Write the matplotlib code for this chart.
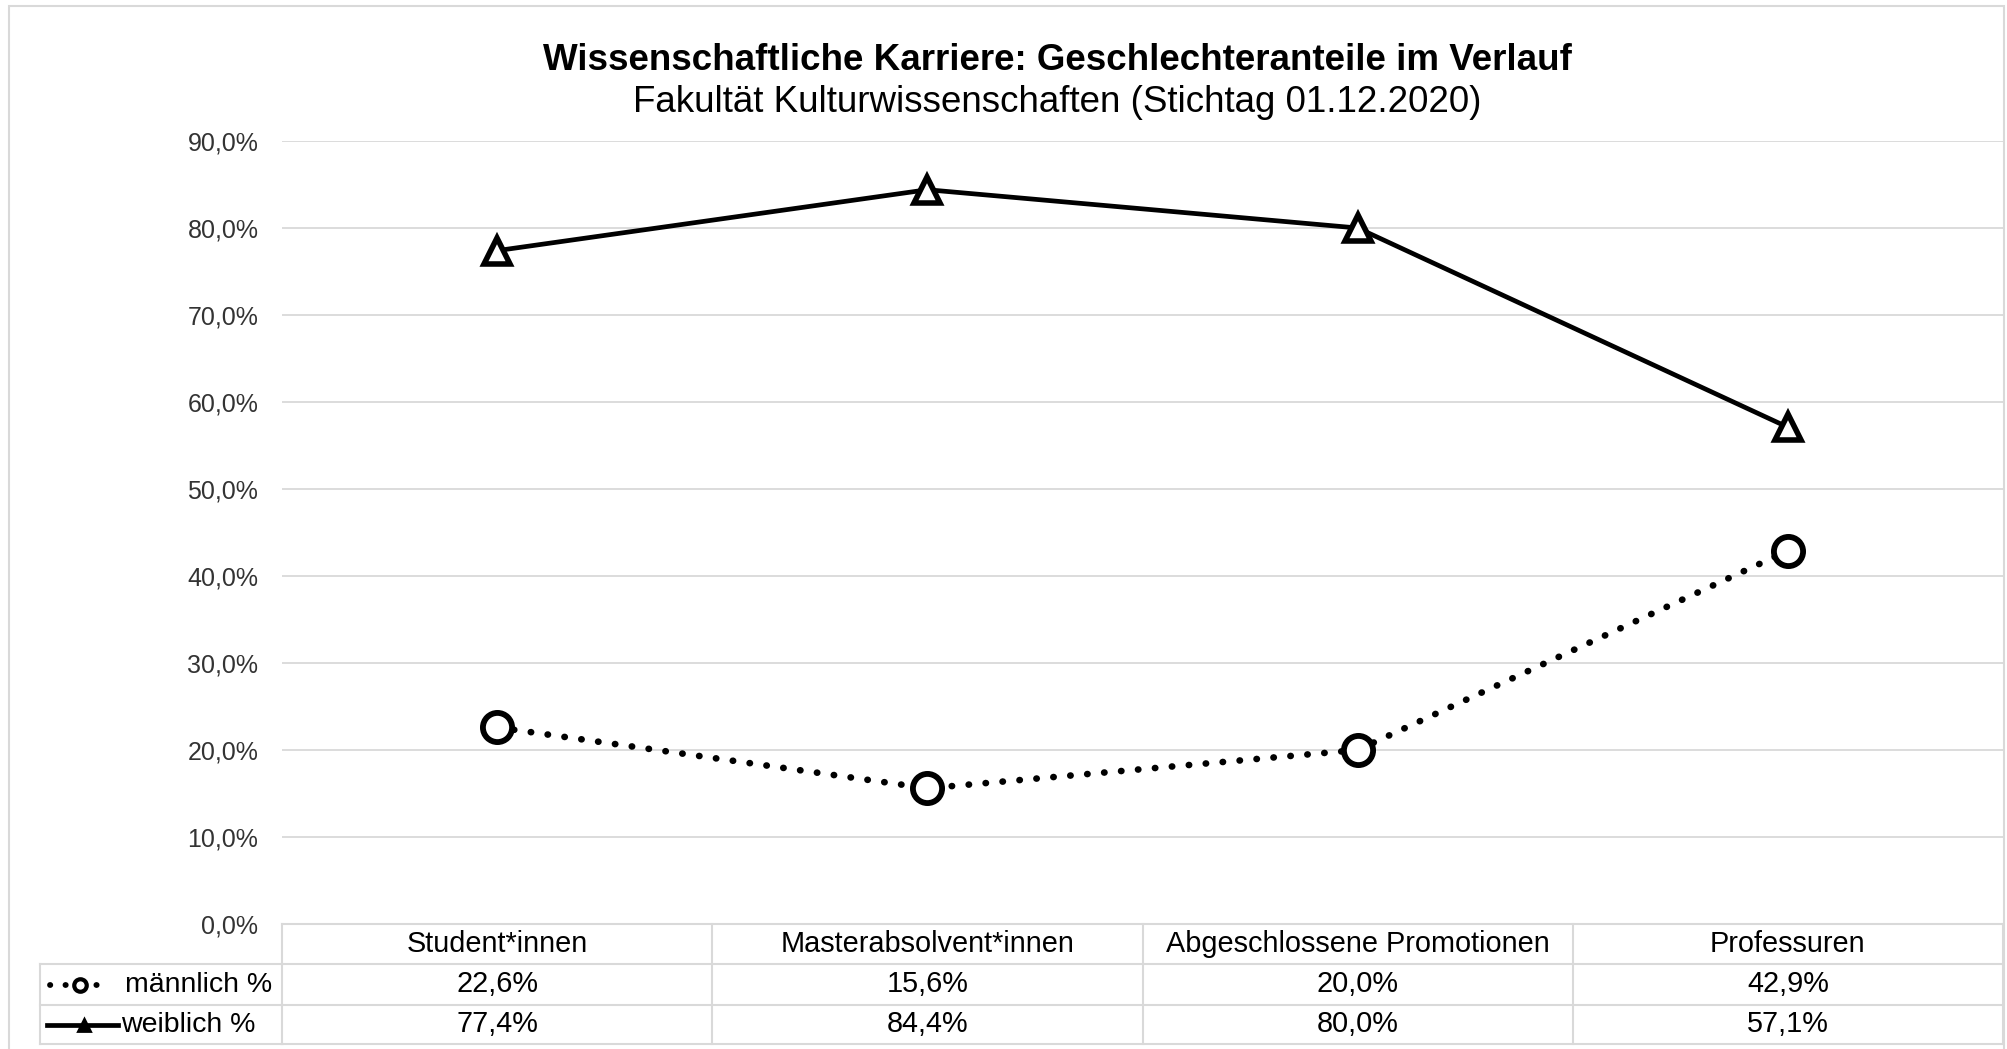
import matplotlib
matplotlib.use('Agg')
import matplotlib.pyplot as plt
from matplotlib.lines import Line2D
from matplotlib.patches import Rectangle
from matplotlib.transforms import blended_transform_factory

plt.rcParams['font.family'] = ['Liberation Sans', 'DejaVu Sans']

categories = ['Student*innen', 'Masterabsolvent*innen', 'Abgeschlossene Promotionen', 'Professuren']
maennlich = [22.6, 15.6, 20.0, 42.9]
weiblich = [77.4, 84.4, 80.0, 57.1]
yticks = [0, 10, 20, 30, 40, 50, 60, 70, 80, 90]

W, H = 2007, 1049
fig = plt.figure(figsize=(W / 100, H / 100), dpi=100)

# plot area in pixels: x 282..2003, y 141 (90%) .. 924 (0%)
ax = fig.add_axes([282 / W, (H - 924) / H, (2003 - 282) / W, (924 - 141) / H])
ax.set_xlim(-0.5, 3.5)
ax.set_ylim(0, 90)
for s in ax.spines.values():
    s.set_visible(False)
ax.set_xticks([])
ax.set_yticks(yticks)
ax.set_yticklabels([f'{v:.1f}%'.replace('.', ',') for v in yticks], fontsize=18, color='#333333')
ax.tick_params(axis='y', length=0, pad=17)
for v in yticks[1:]:
    ax.axhline(v, color='#d9d9d9', lw=1.3, zorder=0)

x = list(range(len(categories)))
ax.plot(x, weiblich, color='black', lw=3.4, marker='^', markersize=19,
        markerfacecolor='white', markeredgecolor='black', markeredgewidth=4,
        solid_joinstyle='round', clip_on=False, zorder=3)
ax.plot(x, maennlich, color='black', lw=4.8, linestyle=(0, (0.05, 2.5)),
        dash_capstyle='round', marker='o', markersize=21,
        markerfacecolor='white', markeredgecolor='black', markeredgewidth=4.2,
        clip_on=False, zorder=3)

# title
fig.text(1057 / W, 1 - 61 / H, 'Wissenschaftliche Karriere: Geschlechteranteile im Verlauf',
         ha='center', va='center', fontsize=26.5, fontweight='bold')
fig.text(1057 / W, 1 - 102 / H, 'Fakultät Kulturwissenschaften (Stichtag 01.12.2020)',
         ha='center', va='center', fontsize=26.5)

# data table below the axes
tr = blended_transform_factory(ax.transData, fig.transFigure)
grid_c = '#d9d9d9'
row_y = [924, 964, 1005, 1044]
fy = [1 - v / H for v in row_y]
for yv in fy:
    fig.add_artist(Line2D([-0.5, 3.5], [yv, yv], transform=tr, color=grid_c, lw=1.5))
for yv in fy[1:]:
    fig.add_artist(Line2D([40 / W, 282 / W], [yv, yv], color=grid_c, lw=1.5))
for b in [-0.5, 0.5, 1.5, 2.5, 3.5]:
    fig.add_artist(Line2D([b, b], [fy[0], fy[3]], transform=tr, color=grid_c, lw=1.5))
fig.add_artist(Line2D([40 / W, 40 / W], [fy[1], fy[3]], color=grid_c, lw=1.5))

row_c = [(row_y[k] + row_y[k + 1]) / 2 for k in range(3)]
for i, cat in enumerate(categories):
    fig.text(i, 1 - row_c[0] / H, cat, transform=tr, ha='center', va='center', fontsize=20.8)
    fig.text(i, 1 - row_c[1] / H, f'{maennlich[i]:.1f}%'.replace('.', ','), transform=tr,
             ha='center', va='center', fontsize=20.8)
    fig.text(i, 1 - row_c[2] / H, f'{weiblich[i]:.1f}%'.replace('.', ','), transform=tr,
             ha='center', va='center', fontsize=20.8)

# legend keys inside table
ym = 1 - row_c[1] / H
yw = 1 - row_c[2] / H
fig.add_artist(Line2D([50 / W, 110 / W], [ym, ym], color='black', lw=4.2,
                      linestyle=(0, (0.05, 2.6)), dash_capstyle='round'))
fig.add_artist(Line2D([80 / W], [ym], marker='o', markersize=9, markerfacecolor='white',
                      markeredgecolor='black', markeredgewidth=3))
fig.add_artist(Line2D([47 / W, 118 / W], [yw, yw], color='black', lw=3.4))
fig.add_artist(Line2D([84 / W], [yw], marker='^', markersize=9, markerfacecolor='black',
                      markeredgecolor='black', markeredgewidth=2.0))
fig.text(125 / W, ym, 'männlich %', ha='left', va='center', fontsize=20.5)
fig.text(121 / W, yw, 'weiblich %', ha='left', va='center', fontsize=20.5)

# outer chart frame
fig.add_artist(Rectangle((9 / W, -0.01), (2004 - 9) / W, 1 - 6 / H + 0.01,
                         fill=False, edgecolor='#d9d9d9', lw=1.5))

fig.savefig('out.png', dpi=100)
